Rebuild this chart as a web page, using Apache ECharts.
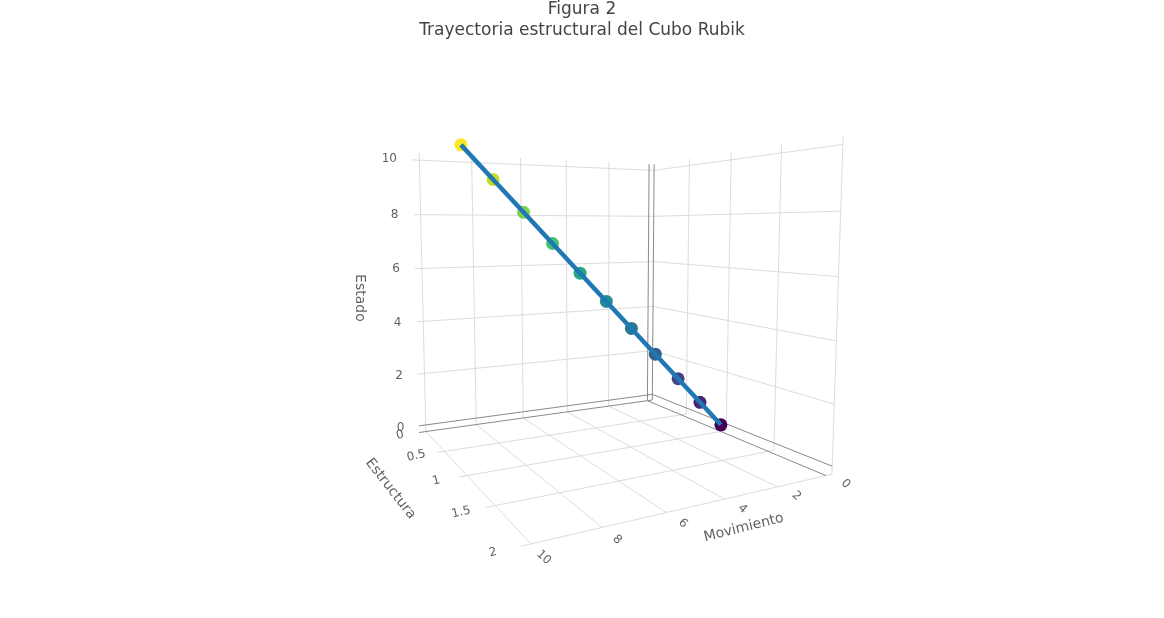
<!doctype html>
<html lang="es">
<head>
	<meta charset="UTF-8">
	<title>Figura 2</title>
	<script src="https://cdn.jsdelivr.net/npm/echarts@6/dist/echarts.min.js"></script>
	<style>
		html, body { margin: 0; padding: 0; background: #fff; }
		#main { width: 1164px; height: 618px; }
	</style>
</head>
<body>
<div id="main"></div>
<script type="text/javascript">
	// datos de la trayectoria
	var movimiento = [0, 1, 2, 3, 4, 5, 6, 7, 8, 9, 10];
	var estructura = [1, 1, 1, 1, 1, 1, 1, 1, 1, 1, 1];
	var estado = [0, 1, 2, 3, 4, 5, 6, 7, 8, 9, 10];
	var nivelColor = [0, 1, 2, 3, 4, 5, 6, 7, 8, 9, 10];

	// ejes
	var movTicks = [0, 2, 4, 6, 8, 10];
	var estrTicks = [0, 0.5, 1, 1.5, 2];
	var estadoTicks = [0, 2, 4, 6, 8, 10];
	var movRango = [-0.26, 10.26];
	var estrRango = [0, 2];
	var estadoRango = [-0.26, 10.26];

	var viridis = ['#440154', '#48186a', '#472d7b', '#424086', '#3b528b', '#33638d', '#2c728e', '#26828e', '#21918c',
		'#1fa088', '#28ae80', '#3fbc73', '#5ec962', '#84d44b', '#addc30', '#d8e219', '#fde725'];

	// donde cae la caja de la escena en la pagina: [mov, estr, estado, px, py]
	var esquinasEscena = [
		[10.26, 0, -0.26, 419, 432],
		[-0.26, 0, -0.26, 652.7, 400.7],
		[-0.26, 2, -0.26, 831.7, 473.3],
		[-0.26, 0, 10.26, 653.5, 164],
		[-0.26, 2, 10.26, 843.3, 135],
		[10, 0, 10.26, 420, 153],
		[10.26, 0, 10, 411.7, 160],
		[10, 2, -0.26, 531.7, 544],
		[-0.26, 2, 10, 843.3, 145.7],
		[10.26, 2, -0.26, 520, 546.7]
	];

	// camara en perspectiva ajustada a la caja (DLT por minimos cuadrados)
	function norm(m, e, z) { return [m / 10, e / 2, z / 10]; }
	function ajustarCamara(pares) {
		var A = [], b = [];
		pares.forEach(function (p) {
			var q = norm(p[0], p[1], p[2]);
			var u = (p[3] - 600) / 300, v = (p[4] - 300) / 300;
			A.push([q[0], q[1], q[2], 1, 0, 0, 0, 0, -u * q[0], -u * q[1], -u * q[2]]); b.push(u);
			A.push([0, 0, 0, 0, q[0], q[1], q[2], 1, -v * q[0], -v * q[1], -v * q[2]]); b.push(v);
		});
		var n = 11, M = [], i, j, k;
		for (i = 0; i < n; i++) {
			M.push([]);
			for (j = 0; j <= n; j++) {
				var s = 0;
				for (k = 0; k < A.length; k++) s += A[k][i] * (j < n ? A[k][j] : b[k]);
				M[i].push(s);
			}
		}
		for (i = 0; i < n; i++) {
			var piv = i;
			for (k = i + 1; k < n; k++) if (Math.abs(M[k][i]) > Math.abs(M[piv][i])) piv = k;
			var t = M[i]; M[i] = M[piv]; M[piv] = t;
			for (k = 0; k < n; k++) {
				if (k === i) continue;
				var f = M[k][i] / M[i][i];
				for (j = i; j <= n; j++) M[k][j] -= f * M[i][j];
			}
		}
		var p = [];
		for (i = 0; i < n; i++) p.push(M[i][n] / M[i][i]);
		return p;
	}
	var cam = ajustarCamara(esquinasEscena);
	function proyectar(m, e, z) {
		var q = norm(m, e, z);
		var w = cam[8] * q[0] + cam[9] * q[1] + cam[10] * q[2] + 1;
		return [
			(cam[0] * q[0] + cam[1] * q[1] + cam[2] * q[2] + cam[3]) / w * 300 + 600,
			(cam[4] * q[0] + cam[5] * q[1] + cam[6] * q[2] + cam[7]) / w * 300 + 300
		];
	}

	// rejilla: suelo y las dos paredes del fondo
	var mMin = movRango[0], mMax = movRango[1], eMin = estrRango[0], eMax = estrRango[1], zMin = estadoRango[0], zMax = estadoRango[1];
	var rejilla = [], ceros = [];
	function seg(a, b, cero) {
		(cero ? ceros : rejilla).push({ coords: [proyectar(a[0], a[1], a[2]), proyectar(b[0], b[1], b[2])] });
	}
	movTicks.forEach(function (m) {
		seg([m, eMin, zMin], [m, eMax, zMin], m === 0);
		seg([m, eMin, zMin], [m, eMin, zMax], m === 0);
	});
	estrTicks.forEach(function (e) {
		seg([mMin, e, zMin], [mMax, e, zMin], e === 0);
		seg([mMin, e, zMin], [mMin, e, zMax], e === 0);
	});
	estadoTicks.forEach(function (z) {
		seg([mMin, eMin, z], [mMax, eMin, z], z === 0);
		seg([mMin, eMin, z], [mMin, eMax, z], z === 0);
	});

	// puntos de la trayectoria
	var traza = movimiento.map(function (m, i) { return proyectar(m, estructura[i], estado[i]); });
	var marcas = traza.map(function (p, i) { return [p[0], p[1], nivelColor[i]]; });

	function etiquetas(ticks, pos) {
		return ticks.map(function (t) { return { name: String(t), value: pos(t) }; });
	}
	var etqMov = etiquetas(movTicks, function (m) { return proyectar(m, eMax + 0.15, zMin); });
	var etqEstr = etiquetas(estrTicks, function (e) { return proyectar(mMax + 0.72, e, zMin); });
	var etqEstado = etiquetas(estadoTicks, function (z) { return proyectar(mMax + 0.55, eMin, z); });

	var fuente = '"DejaVu Sans", Verdana, sans-serif';
	function serieTexto(datos, rot, align, size) {
		return {
			type: 'scatter', data: datos, symbolSize: 1, silent: true, z: 5,
			itemStyle: { color: 'rgba(0,0,0,0)' },
			label: {
				show: true, position: 'inside', formatter: '{b}', rotate: rot, align: align, verticalAlign: 'middle',
				color: '#3a3a3a', fontSize: size, fontFamily: fuente, textBorderWidth: 0
			}
		};
	}

	var myChart = echarts.init(document.getElementById('main'));
	var option = {
		animation: false,
		backgroundColor: '#fff',
		title: {
			text: 'Figura 2\nTrayectoria estructural del Cubo Rubik',
			left: 577, top: -6, textAlign: 'center',
			textStyle: { color: '#444', fontSize: 17, fontWeight: 'normal', lineHeight: 21, fontFamily: fuente }
		},
		grid: { left: 0, right: 0, top: 0, bottom: 0 },
		xAxis: { type: 'value', min: 0, max: 1164, show: false },
		yAxis: { type: 'value', min: 0, max: 618, inverse: true, show: false },
		visualMap: {
			show: false, seriesIndex: 3, dimension: 2, min: 0, max: 10,
			inRange: { color: viridis }
		},
		series: [
			{ type: 'lines', coordinateSystem: 'cartesian2d', data: rejilla, silent: true, z: 1,
				lineStyle: { color: '#dcdcdc', width: 1, opacity: 1 } },
			{ type: 'lines', coordinateSystem: 'cartesian2d', data: ceros, silent: true, z: 1,
				lineStyle: { color: '#8a8a8a', width: 1, opacity: 1 } },
			{ type: 'line', data: traza, showSymbol: false, z: 4,
				lineStyle: { color: '#1f77b4', width: 4.5 } },
			{ type: 'scatter', data: marcas, symbolSize: 13, z: 3, itemStyle: { opacity: 1 } },
			serieTexto(etqMov, -42, 'center', 12),
			serieTexto(etqEstr, 13, 'center', 12),
			serieTexto(etqEstado, 0, 'right', 12),
			serieTexto([{ name: 'Estado', value: proyectar(mMax + 2.0, eMin, 5) }], -90, 'center', 14),
			serieTexto([{ name: 'Estructura', value: proyectar(mMax + 2.1, 1, zMin) }], -52, 'center', 14),
			serieTexto([{ name: 'Movimiento', value: proyectar(4.75, eMax + 0.33, zMin) }], 14, 'center', 14)
		]
	};
	myChart.setOption(option);
</script>
</body>
</html>
